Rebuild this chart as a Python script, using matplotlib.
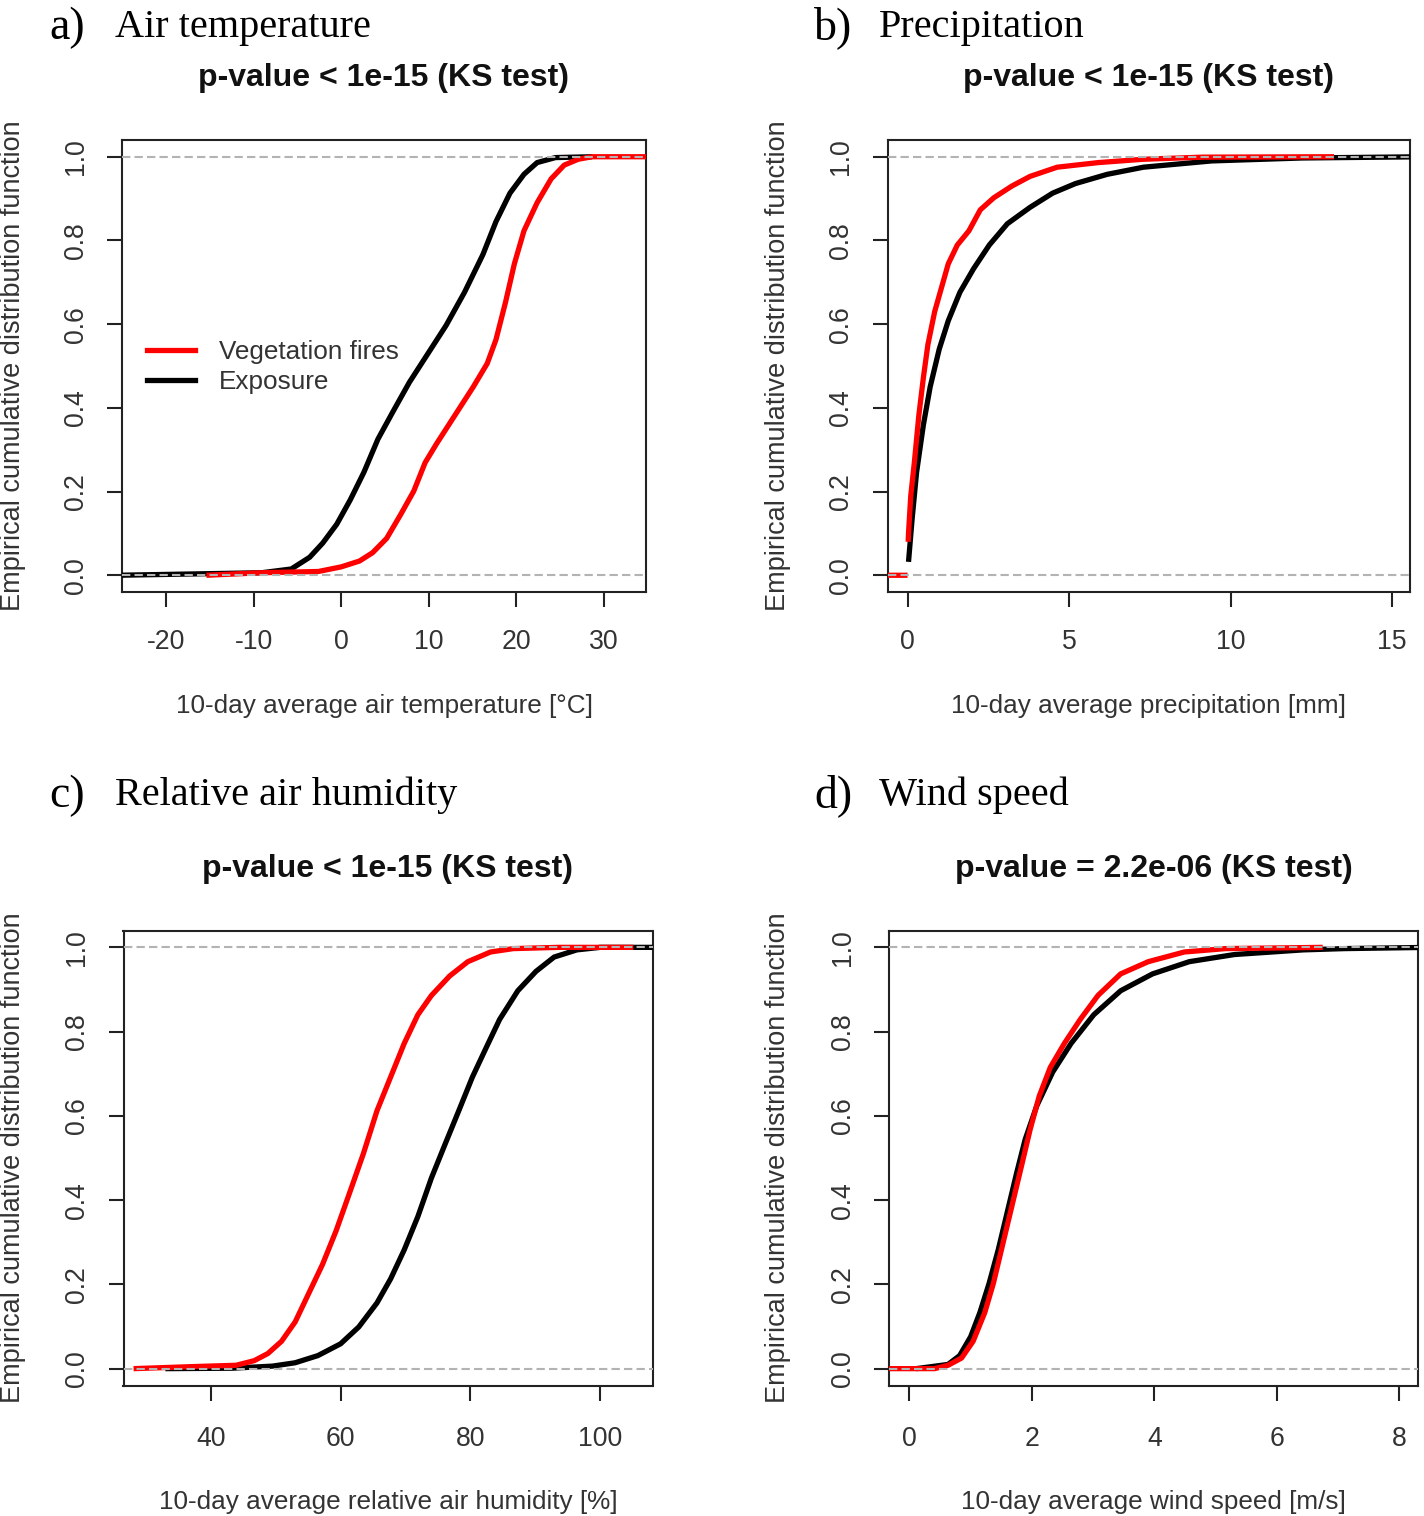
import numpy as np
import matplotlib
matplotlib.use("Agg")
import matplotlib.pyplot as plt
from matplotlib.lines import Line2D

# ---------------- data ----------------
# a) Air temperature
temp_fire_x = [-15.4, -9.1, -2.6, 0.0, 2.1, 3.6, 5.2, 6.8, 8.3, 9.6, 10.9, 13.0, 15.1, 16.7,
               17.7, 18.8, 19.8, 20.9, 22.4, 24.0, 25.5, 27.1, 28.7, 35.5]
temp_fire_F = [0.0, 0.006, 0.009, 0.02, 0.034, 0.054, 0.088, 0.145, 0.201, 0.269, 0.314, 0.382,
               0.45, 0.506, 0.563, 0.653, 0.744, 0.823, 0.89, 0.947, 0.98, 0.994, 1.0, 1.0]
temp_exp_x = [-25.5, -9.1, -5.7, -3.6, -2.1, -0.5, 1.04, 2.6, 4.2, 5.9, 7.8, 9.9, 12.0, 14.1,
              16.2, 17.7, 19.3, 20.9, 22.4, 24.5, 28.7]
temp_exp_F = [0.0, 0.006, 0.015, 0.043, 0.077, 0.122, 0.18, 0.246, 0.325, 0.39, 0.461, 0.529,
              0.597, 0.676, 0.766, 0.845, 0.913, 0.958, 0.986, 0.998, 1.0]

# b) Precipitation (nan = gap between the zero segment and the first step)
prec_fire_x = [-0.62, 0.0, np.nan, 0.02, 0.03, 0.1, 0.21, 0.35, 0.49, 0.63, 0.84, 1.05, 1.26, 1.54,
               1.9, 2.25, 2.67, 3.23, 3.79, 4.63, 5.9, 7.3, 9.13, 13.2]
prec_fire_F = [0.0, 0.0, np.nan, 0.08, 0.10, 0.19, 0.269, 0.382, 0.472, 0.551, 0.63, 0.687, 0.744,
               0.789, 0.823, 0.873, 0.902, 0.93, 0.953, 0.975, 0.986, 0.994, 0.999, 1.0]
prec_exp_x = [0.03, 0.14, 0.28, 0.49, 0.7, 0.98, 1.26, 1.62, 2.04, 2.53, 3.09, 3.79, 4.49, 5.2,
              6.18, 7.3, 9.41, 12.2, 16.0]
prec_exp_F = [0.032, 0.133, 0.246, 0.359, 0.45, 0.54, 0.608, 0.676, 0.732, 0.789, 0.84, 0.879,
              0.913, 0.936, 0.958, 0.975, 0.99, 0.997, 1.0]

# c) Relative air humidity
hum_fire_x = [28.1, 37.5, 43.9, 46.7, 48.8, 50.9, 53.0, 55.1, 57.2, 59.3, 61.4, 63.5, 65.6, 67.7,
              69.8, 71.9, 74.0, 76.8, 79.6, 83.1, 86.6, 93.6, 105.1]
hum_fire_F = [0.0, 0.005, 0.008, 0.019, 0.036, 0.065, 0.111, 0.179, 0.247, 0.327, 0.418, 0.51,
              0.612, 0.692, 0.772, 0.84, 0.886, 0.932, 0.966, 0.989, 0.997, 1.0, 1.0]
hum_exp_x = [33.0, 43.2, 49.5, 53.0, 56.5, 60.0, 62.8, 65.6, 67.7, 69.8, 71.9, 74.0, 76.1, 78.2,
             80.3, 82.4, 84.5, 87.3, 90.1, 92.9, 96.4, 100.0, 108.5]
hum_exp_F = [0.0, 0.001, 0.006, 0.014, 0.031, 0.059, 0.099, 0.156, 0.213, 0.282, 0.361, 0.453,
             0.533, 0.612, 0.692, 0.761, 0.829, 0.897, 0.943, 0.977, 0.994, 1.0, 1.0]

# d) Wind speed
wind_fire_x = [-0.4, 0.41, 0.63, 0.85, 1.04, 1.23, 1.37, 1.52, 1.67, 1.82, 1.97, 2.12, 2.3, 2.53,
               2.79, 3.08, 3.45, 3.9, 4.49, 5.16, 6.75]
wind_fire_F = [0.0, 0.0, 0.008, 0.025, 0.065, 0.133, 0.202, 0.293, 0.384, 0.475, 0.567, 0.647,
               0.715, 0.772, 0.829, 0.886, 0.937, 0.966, 0.989, 0.997, 1.0]
wind_exp_x = [0.11, 0.63, 0.82, 1.0, 1.15, 1.3, 1.45, 1.6, 1.75, 1.89, 2.08, 2.34, 2.64, 3.01,
              3.45, 3.97, 4.57, 5.31, 6.43, 7.1, 8.5]
wind_exp_F = [0.0, 0.01, 0.031, 0.076, 0.133, 0.202, 0.282, 0.373, 0.464, 0.544, 0.624, 0.704,
              0.772, 0.84, 0.897, 0.937, 0.966, 0.983, 0.994, 0.997, 1.0]

panel_letters = ["a)", "b)", "c)", "d)"]
panel_names = ["Air temperature", "Precipitation", "Relative air humidity", "Wind speed"]
p_titles = ["p-value < 1e-15 (KS test)", "p-value < 1e-15 (KS test)",
            "p-value < 1e-15 (KS test)", "p-value = 2.2e-06 (KS test)"]
x_labels = ["10-day average air temperature [\u00b0C]", "10-day average precipitation [mm]",
            "10-day average relative air humidity [%]", "10-day average wind speed [m/s]"]
y_label = "Empirical cumulative distribution function"
x_ticks = [[-20, -10, 0, 10, 20, 30], [0, 5, 10, 15], [40, 60, 80, 100], [0, 2, 4, 6, 8]]
y_ticks = [0.0, 0.2, 0.4, 0.6, 0.8, 1.0]
x_lims = [(-25.05, 34.85), (-0.62, 15.55), (26.55, 108.05), (-0.334, 8.306)]
legend_labels = ["Vegetation fires", "Exposure"]

fire_series = [(temp_fire_x, temp_fire_F), (prec_fire_x, prec_fire_F),
               (hum_fire_x, hum_fire_F), (wind_fire_x, wind_fire_F)]
exp_series = [(temp_exp_x, temp_exp_F), (prec_exp_x, prec_exp_F),
              (hum_exp_x, hum_exp_F), (wind_exp_x, wind_exp_F)]

# ---------------- layout ----------------
W, H = 1424, 1516
fig = plt.figure(figsize=(W / 100, H / 100), dpi=100)
fig.patch.set_facecolor("white")

def fx(p):
    return p / W

def fy(p):
    return 1 - p / H

# axes boxes in pixel coords: left, right, top, bottom
boxes = [(122, 646, 140, 592), (887.5, 1410, 140, 592),
         (123.5, 652.5, 930.5, 1385.5), (889, 1418, 930.5, 1385.5)]

SANS = ["Liberation Sans", "DejaVu Sans"]
SERIF = ["Liberation Serif", "DejaVu Serif"]
FS = 18.8
TXT = "#333333"
RED = "#ff0000"

for i, (l, r, t, b) in enumerate(boxes):
    ax = fig.add_axes([fx(l), fy(b), (r - l) / W, (b - t) / H])
    ax.set_xlim(*x_lims[i])
    ax.set_ylim(-0.04, 1.04)
    for s in ax.spines.values():
        s.set_linewidth(1.5)
        s.set_color("#222222")

    ex, eF = exp_series[i]
    fxs, fFs = fire_series[i]
    ax.plot(ex, eF, color="black", lw=3.8, solid_capstyle="butt", zorder=3)
    ax.plot(fxs, fFs, color=RED, lw=3.8, solid_capstyle="butt", zorder=4)

    for yv in (0.0, 1.0):
        ax.axhline(yv, color="#b3b3b3", lw=1.5, ls=(0, (4, 2)), zorder=5)

    top_row = i < 2
    ax.set_xticks(x_ticks[i])
    ax.set_xticklabels([str(v) for v in x_ticks[i]], fontsize=19.2, color=TXT, family=SANS)
    ax.set_yticks(y_ticks)
    ax.set_yticklabels([f"{v:.1f}" for v in y_ticks], fontsize=19.2, color=TXT, family=SANS,
                       rotation=90, va="center")
    ax.tick_params(axis="both", direction="out", length=11, width=1.5, color="#222222")
    ax.tick_params(axis="x", pad=15.5 if top_row else 18.5)
    ax.tick_params(axis="y", pad=13)

    cx = (l + r) / 2
    base = 0 if top_row else 791
    # title
    fig.text(fx(cx), fy(78 + base), p_titles[i], ha="center", va="center",
             fontsize=23, fontweight="bold", family=SANS, color="#111111")
    # x label
    fig.text(fx(cx), fy(706 + (796 if not top_row else 0)), x_labels[i], ha="center", va="center",
             fontsize=FS, family=SANS, color=TXT)
    # y label
    ylx = 13 if i % 2 == 0 else 778
    fig.text(fx(ylx), fy((t + b) / 2), y_label, ha="center", va="center", rotation=90,
             fontsize=19.5, family=SANS, color=TXT)
    # panel letter and name
    lx = 49 if i % 2 == 0 else 814
    nx = 115 if i % 2 == 0 else 879
    py = 27 if top_row else 795
    fig.text(fx(lx), fy(py + 1), panel_letters[i], ha="left", va="center", fontsize=33,
             family=SERIF, color="black")
    fig.text(fx(nx), fy(py), panel_names[i], ha="left", va="center", fontsize=29,
             family=SERIF, color="black")

    if i == 0:
        handles = [Line2D([], [], color=RED, lw=3.8), Line2D([], [], color="black", lw=3.8)]
        ax.legend(handles, legend_labels, loc="upper left",
                  bbox_to_anchor=(fx(147), fy(340)), bbox_transform=fig.transFigure,
                  frameon=False, borderpad=0, borderaxespad=0, handlelength=1.85,
                  handletextpad=0.9, labelspacing=0.24,
                  prop={"family": SANS, "size": FS}, labelcolor=TXT)

fig.savefig("out.png", dpi=100, facecolor="white")
